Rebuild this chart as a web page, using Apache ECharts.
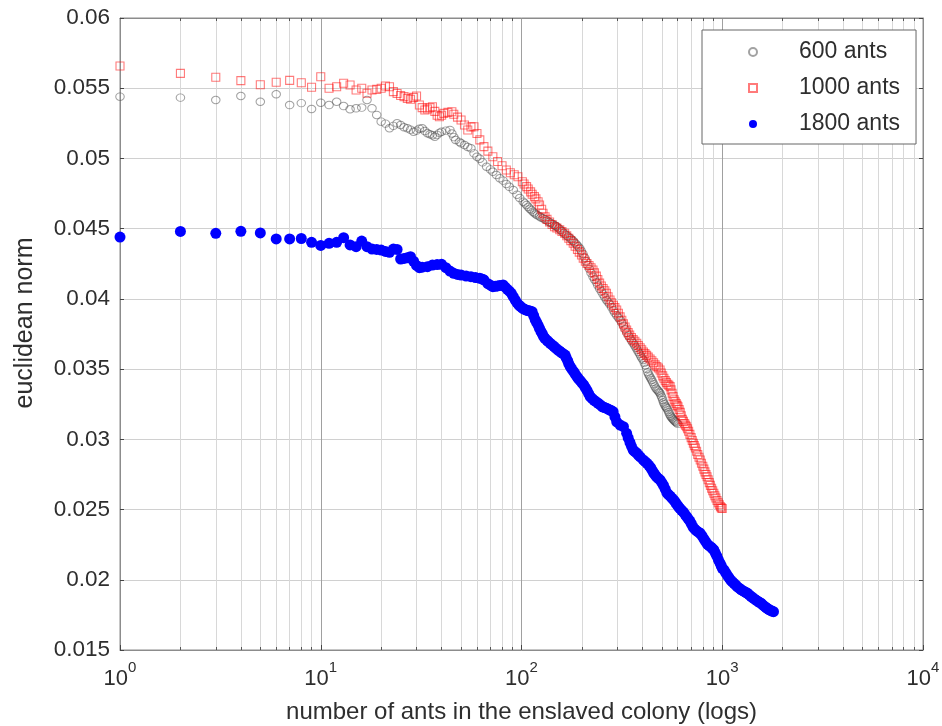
<!DOCTYPE html>
<html>
<head>
<meta charset="utf-8">
<script src="https://cdn.jsdelivr.net/npm/echarts@6/dist/echarts.min.js"></script>
<style>
  html, body { margin: 0; padding: 0; background: #fff; }
  #chart { width: 942px; height: 726px; }
</style>
</head>
<body>
<div id="chart"></div>
<script>
// values (x = ants in colony, y = euclidean norm)
const grayX = [1,2,3,4,5,6,7,8,9,10,11,12,13,14,15,16,17,18,19,20,21,22,23,24,25,26,27,28,29,30,31,32,33,34,35,36,37,38,39,40,42,44,45,46,47,49,50,52,54,56,58,60,62,64,67,70,72,75,78,81,84,87,91,95,98,102,106,110,114,118,123,128,134,140,146,150,156,162,168,175,181,188,195,202,210,218,227,236,245,255,265,275,287,298,310,322,335,348,360,372,382,393,404,414,425,435,445,456,468,480,490,500,510,520,530,541,552,563,573,585,600]
const grayY = [0.0544,0.05433,0.05416,0.05445,0.05404,0.05457,0.0538,0.05394,0.05352,0.05397,0.0538,0.05404,0.05373,0.0535,0.05357,0.05362,0.05416,0.05357,0.0531,0.05262,0.05248,0.05215,0.05232,0.0525,0.05238,0.05222,0.05215,0.05205,0.0519,0.05198,0.05212,0.05215,0.05195,0.0518,0.05172,0.05165,0.05155,0.05168,0.05182,0.0519,0.05198,0.05203,0.05178,0.05152,0.05131,0.05118,0.05108,0.05096,0.05082,0.05072,0.05036,0.05012,0.04998,0.04972,0.04941,0.04922,0.04905,0.04882,0.04859,0.04842,0.04818,0.04798,0.04775,0.04742,0.04718,0.04692,0.04668,0.04642,0.04621,0.04602,0.04588,0.04574,0.04558,0.0454,0.04525,0.04514,0.04492,0.0447,0.04452,0.04431,0.04412,0.04388,0.0436,0.04322,0.04268,0.04212,0.04158,0.04118,0.04072,0.04032,0.03992,0.03962,0.03918,0.03882,0.0385,0.03808,0.03758,0.03718,0.03684,0.03652,0.03622,0.03592,0.03565,0.03528,0.03478,0.03448,0.03423,0.03392,0.03362,0.03345,0.03328,0.03298,0.03262,0.03238,0.03221,0.03195,0.03168,0.0315,0.03138,0.03125,0.0311]
// extra readings along the dense part of the 600-ant band
const grayBandX = [104,108,112,116,120,125,131,137,143,148,153,159,165,171,178,184,191,198,206,214,222,231,240,250,260,270,281,292,304,316,328,341,354,366,377,388,398,409,420,430,440,450,462,474,485,495,505,515,525,535,546,557,568,579,592]
const grayBandY = [0.0468,0.04655,0.04632,0.04611,0.04596,0.0458,0.04566,0.04548,0.04532,0.04519,0.04503,0.04481,0.04461,0.04442,0.04421,0.044,0.04375,0.04342,0.04295,0.0424,0.04185,0.04138,0.04095,0.04052,0.04012,0.03977,0.0394,0.039,0.03866,0.0383,0.03784,0.03738,0.037,0.03668,0.03637,0.03607,0.03578,0.03546,0.03502,0.03462,0.03435,0.03408,0.03376,0.03353,0.03336,0.03312,0.0328,0.0325,0.03229,0.03208,0.03181,0.03159,0.03144,0.03131,0.03118]

const redX = [1,2,3,4,5,6,7,8,9,10,11,12,13,14,15,16,17,18,19,20,21,22,23,24,25,26,27,28,29,30,31,32,33,34,35,36,37,38,39,40,41,43,45,46,48,50,52,54,56,58,60,62,65,68,72,76,80,84,88,92,96,101,106,111,116,121,126,131,138,146,155,164,172,181,190,199,208,217,227,236,245,255,265,276,287,298,310,322,334,346,360,375,390,405,420,437,455,472,490,505,520,535,550,563,576,590,602,618,633,650,665,680,700,718,735,755,777,800,820,840,862,885,908,930,955,980,1000]
const redY = [0.05658,0.05606,0.05578,0.05554,0.05525,0.05542,0.05556,0.05539,0.05507,0.05582,0.055,0.0551,0.05535,0.05523,0.05487,0.055,0.05464,0.05487,0.05492,0.055,0.05516,0.05511,0.05476,0.05462,0.05448,0.0544,0.05428,0.05421,0.05435,0.05445,0.05381,0.05362,0.05345,0.05352,0.05362,0.05368,0.05335,0.05308,0.05297,0.05308,0.05321,0.05328,0.05333,0.05315,0.05294,0.05274,0.05238,0.05203,0.05225,0.05226,0.05178,0.05132,0.05084,0.05052,0.05012,0.04978,0.04948,0.04918,0.04898,0.04884,0.0487,0.04834,0.04799,0.04762,0.04728,0.04692,0.04638,0.04585,0.04548,0.04514,0.04492,0.04467,0.04432,0.04396,0.04352,0.04313,0.04268,0.04238,0.04206,0.04162,0.04112,0.04074,0.0404,0.03992,0.03955,0.03921,0.03872,0.03822,0.03779,0.03742,0.0371,0.03684,0.03652,0.03622,0.03598,0.03572,0.03545,0.03518,0.03494,0.03452,0.03418,0.03392,0.03375,0.03328,0.03282,0.03255,0.03232,0.03192,0.03142,0.03112,0.0309,0.03058,0.03012,0.02972,0.02938,0.02892,0.02853,0.02808,0.02768,0.02734,0.02692,0.02652,0.02616,0.02582,0.02548,0.0252,0.02508]
// extra readings along the dense part of the 1000-ant band
const redBandX = [103,108,113,118,123,128,134,142,150,159,168,176,185,194,203,212,222,231,240,250,260,270,281,292,304,316,328,340,353,367,382,397,412,428,446,463,481,497,512,527,542,556,569,583,596,610,625,641,657,672,690,709,726,745,766,788,810,830,851,873,896,919,942,967,990]
const redBandY = [0.04818,0.04782,0.04745,0.04712,0.04668,0.0461,0.04566,0.0453,0.04505,0.0448,0.0445,0.04415,0.04375,0.04333,0.0429,0.04252,0.04222,0.04185,0.04138,0.04092,0.04058,0.04015,0.03972,0.03938,0.03898,0.03848,0.038,0.0376,0.03725,0.03698,0.03668,0.03638,0.0361,0.03585,0.0356,0.0353,0.03508,0.03472,0.03435,0.03405,0.03385,0.03352,0.03305,0.03268,0.03242,0.03212,0.03168,0.03128,0.031,0.03075,0.03035,0.02992,0.02955,0.02915,0.02872,0.0283,0.02788,0.0275,0.02712,0.02672,0.02634,0.02598,0.02565,0.02534,0.02512]

const blueX = [1,2,3,4,5,6,7,8,9,10,11,12,13,14,15,16,17,18,19,20,21,22,23,24,25,26,27,28,29,30,31,32,34,36,38,40,42,44,46,48,50,53,56,59,62,65,68,72,76,81,85,89,93,97,101,105,109,113,117,121,125,129,134,139,145,152,158,165,170,175,182,189,196,204,212,220,230,241,253,265,276,286,298,310,322,334,347,360,375,390,404,422,440,455,470,490,510,530,550,573,595,615,640,665,690,715,745,777,810,845,880,908,940,975,1000,1020,1060,1100,1144,1190,1240,1290,1335,1390,1450,1500,1560,1620,1680,1740,1800]
const blueY = [0.0444,0.0448,0.04467,0.04481,0.0447,0.04427,0.04427,0.0443,0.04403,0.04381,0.04396,0.04403,0.04436,0.04384,0.04372,0.04412,0.04372,0.04355,0.04352,0.04348,0.04338,0.04332,0.04355,0.04352,0.04284,0.04288,0.04293,0.043,0.04268,0.04238,0.04222,0.04226,0.04229,0.04241,0.04244,0.04246,0.04222,0.04198,0.04182,0.04174,0.0417,0.04163,0.04158,0.04152,0.04147,0.04135,0.04108,0.04087,0.04092,0.04099,0.04068,0.0404,0.03992,0.03956,0.03935,0.03921,0.03915,0.03909,0.03852,0.03812,0.03768,0.03731,0.03705,0.03684,0.03662,0.03636,0.03618,0.036,0.03558,0.03517,0.03482,0.03446,0.03418,0.03387,0.03348,0.03304,0.03278,0.03257,0.03232,0.03222,0.03208,0.03197,0.03125,0.03102,0.0309,0.03043,0.02978,0.02924,0.02902,0.02875,0.02853,0.02829,0.02798,0.02762,0.02735,0.02711,0.02672,0.02618,0.02596,0.02568,0.02535,0.02508,0.02482,0.02449,0.02418,0.02375,0.02348,0.02331,0.02292,0.02252,0.02232,0.02212,0.02168,0.02118,0.02082,0.0207,0.02032,0.01998,0.01975,0.0195,0.0193,0.01915,0.01904,0.01882,0.01862,0.01848,0.01833,0.01812,0.01795,0.01782,0.01773]
// extra readings along the dense part of the 1800-ant band
const blueBandX = [64,70,74,78,83,87,91,95,99,103,107,111,115,119,123,127,131,136,142,148,155,161,167,172,178,185,192,200,208,216,225,235,247,259,270,281,292,340,353,367,382,413,431,447,462,480,500,520,540,561,584,605,627,652,677,702,730,761,793,827,862,894,924,957,988,1040,1080,1122,1167,1215,1265,1312,1362,1420,1475,1530,1590,1650,1710,1770]
const blueBandY = [0.0414,0.04098,0.0409,0.04095,0.04083,0.04055,0.04016,0.03972,0.03945,0.03928,0.03918,0.03912,0.0388,0.03832,0.0379,0.0375,0.03718,0.03695,0.03672,0.0365,0.03628,0.0361,0.0358,0.03538,0.035,0.03465,0.03432,0.03402,0.03368,0.03326,0.0329,0.03268,0.03245,0.03226,0.03215,0.03203,0.0316,0.0301,0.0295,0.02912,0.02888,0.02841,0.02815,0.0278,0.02748,0.02722,0.02692,0.02645,0.02606,0.02582,0.02552,0.02521,0.02495,0.02466,0.02434,0.02398,0.0236,0.0234,0.02312,0.02272,0.02242,0.02222,0.0219,0.02142,0.021,0.0205,0.02015,0.01986,0.01962,0.0194,0.01922,0.0191,0.01893,0.01872,0.01855,0.0184,0.01822,0.01803,0.01788,0.01777]

const seriesNames = ['600 ants', '1000 ants', '1800 ants']
const xExponents = ['0', '1', '2', '3', '4']

const zip = (xs, ys) => xs.map((x, i) => [x, ys[i]])
const minorX = []
for (let d = 1; d < 10000; d *= 10) for (let k = 2; k <= 9; k++) minorX.push(k * d)

const font = "'Liberation Sans', Arial, sans-serif"
const ink = '#2e2e2e'
const frame = '#8c8c8c'

const chart = echarts.init(document.getElementById('chart'), null, { renderer: 'canvas' })
chart.setOption({
  animation: false,
  backgroundColor: '#fff',
  textStyle: { fontFamily: font },
  grid: { left: 120, right: 19, top: 18, bottom: 76, show: true, borderColor: frame, borderWidth: 1,
    containLabel: false, outerBoundsMode: 'none' },
  legend: {
    data: seriesNames, orient: 'vertical', left: 702, top: 30,
    padding: [9, 16, 7, 46], itemWidth: 8, itemHeight: 8, itemGap: 10,
    backgroundColor: '#fff', borderColor: '#666', borderWidth: 1,
    formatter: name => '{g|}{t|' + name + '}',
    textStyle: { fontSize: 23, color: ink, lineHeight: 26, fontFamily: font,
      rich: { g: { width: 37 }, t: { fontSize: 23, color: ink, lineHeight: 26, fontFamily: font } } }
  },
  xAxis: [
    { type: 'log', logBase: 10, min: 1, max: 10000, position: 'bottom',
      name: 'number of ants in the enslaved colony (logs)', nameLocation: 'middle', nameGap: 50,
      nameTextStyle: { fontSize: 24, color: ink, fontFamily: font },
      axisLine: { show: true, lineStyle: { color: frame } },
      axisTick: { inside: true, length: 5, lineStyle: { color: '#444' } },
      axisLabel: { margin: 10, color: ink,
        formatter: v => '{b|10}{s|' + xExponents[Math.round(Math.log10(v))] + '}',
        rich: { b: { fontSize: 22, lineHeight: 30, verticalAlign: 'bottom', color: ink, fontFamily: font },
                s: { fontSize: 15, lineHeight: 16, verticalAlign: 'top', color: ink, fontFamily: font } } },
      splitLine: { show: true, lineStyle: { color: '#a0a0a0', width: 1 } } },
    { type: 'log', logBase: 10, min: 1, max: 10000, position: 'bottom',
      axisLine: { show: false }, axisLabel: { show: false },
      axisTick: { show: true, inside: true, length: 3, customValues: minorX, lineStyle: { color: '#555' } },
      splitLine: { show: true, lineStyle: { color: '#d8d8d8', width: 1 } } },
    { type: 'log', logBase: 10, min: 1, max: 10000, position: 'top',
      axisLine: { show: true, lineStyle: { color: frame } }, axisLabel: { show: false },
      axisTick: { show: true, inside: true, length: 3, customValues: minorX, lineStyle: { color: '#555' } },
      splitLine: { show: false } }
  ],
  yAxis: [
    { type: 'value', min: 0.015, max: 0.06, interval: 0.005, position: 'left',
      name: 'euclidean norm', nameLocation: 'middle', nameGap: 82,
      nameTextStyle: { fontSize: 25, color: ink, fontFamily: font, padding: [0, 0, 0, 22] },
      axisLine: { show: true, lineStyle: { color: frame } },
      axisTick: { inside: true, length: 4, lineStyle: { color: '#444' } },
      axisLabel: { fontSize: 22.5, color: ink, margin: 10, fontFamily: font },
      splitLine: { show: true, lineStyle: { color: '#d0d0d0', width: 1 } } },
    { type: 'value', min: 0.015, max: 0.06, interval: 0.005, position: 'right',
      axisLine: { show: true, lineStyle: { color: frame } },
      axisTick: { inside: true, length: 4, lineStyle: { color: '#444' } },
      axisLabel: { show: false }, splitLine: { show: false } }
  ],
  series: [
    { name: seriesNames[0], type: 'scatter', data: zip(grayX, grayY).concat(zip(grayBandX, grayBandY)),
      symbol: 'circle', symbolSize: [8.5, 7.5],
      itemStyle: { opacity: 1, color: 'rgba(255,255,255,0)', borderColor: 'rgba(70,70,70,0.5)', borderWidth: 1 } },
    { name: seriesNames[1], type: 'scatter', data: zip(redX, redY).concat(zip(redBandX, redBandY)),
      symbol: 'rect', symbolSize: 8,
      itemStyle: { opacity: 1, color: 'rgba(255,255,255,0)', borderColor: 'rgba(255,0,0,0.52)', borderWidth: 1.1 } },
    { name: seriesNames[2], type: 'scatter', data: zip(blueX, blueY).concat(zip(blueBandX, blueBandY)),
      symbol: 'circle', symbolSize: 11,
      itemStyle: { opacity: 1, color: '#0000ff' } }
  ]
})
</script>
</body>
</html>
